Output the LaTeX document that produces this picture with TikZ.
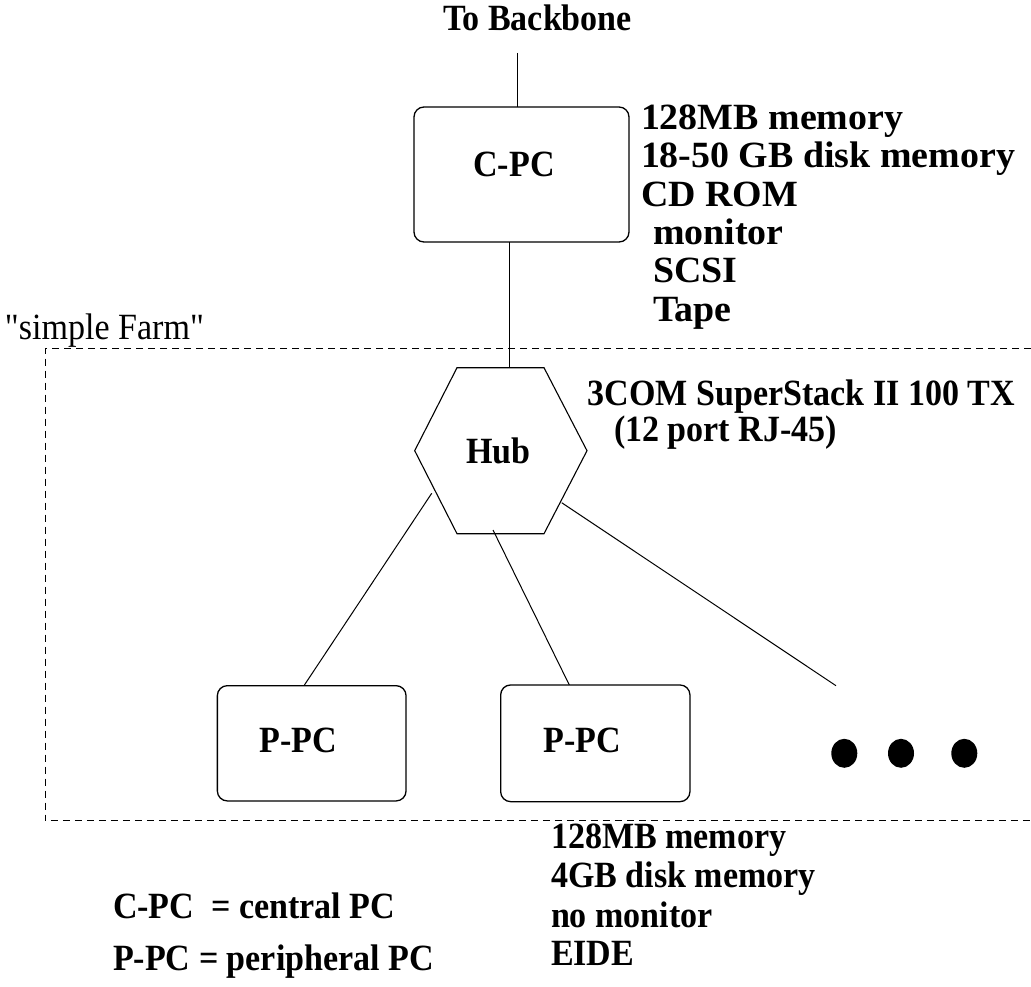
\documentclass[tikz,border=0pt]{standalone}
\usepackage{fontspec}
\setmainfont{Liberation Serif}
\newfontfamily\nf[FakeStretch=0.92]{Liberation Serif}
\newfontfamily\wf[FakeStretch=1.025]{Liberation Serif}
\begin{document}
\begin{tikzpicture}[x=1pt,y=-1pt,
  every node/.style={inner sep=0pt, outer sep=0pt},
  txt/.style={font=\nf\fontsize{37}{40}\selectfont\bfseries, anchor=base west},
  wtxt/.style={font=\wf\fontsize{37}{40}\selectfont\bfseries, anchor=base west},
  ctxt/.style={txt, anchor=base},
  plain/.style={font=\nf\fontsize{37}{40}\selectfont, anchor=base west},
  pcbox/.style={draw, line width=1.3pt, rounded corners=10pt},
  conn/.style={line width=1pt},
  frame/.style={line width=0.9pt, dash pattern=on 7pt off 5pt},
  dot/.style={fill=black}]
\useasboundingbox (0,0) rectangle (1031,987);

% top
\node[ctxt] (backbone) at (537.5,31) {To Backbone};
\coordinate (bbtop) at (517.7,53);

% central PC
\node[pcbox, minimum width=215pt, minimum height=135pt] (cpc) at (521.5,174.5) {};
\node[ctxt] (cpclbl) at (514,177) {C-PC};

\node[wtxt] (s1) at (641,130) {128MB memory};
\node[wtxt] (s2) at (641,168) {18-50 GB disk memory};
\node[wtxt] (s3) at (641,207) {CD ROM};
\node[wtxt] (s4) at (653,245) {monitor};
\node[wtxt] (s5) at (653,283) {SCSI};
\node[wtxt] (s6) at (653,321) {Tape};

% farm frame
\node[plain] (farm) at (5,339) {"simple Farm"};
\draw[frame] (1031,348.5) -- (45,348.5) -- (45,820.7) -- (1031,820.7);

% hub
\coordinate (hA) at (457,367.7);
\coordinate (hB) at (544,367.7);
\coordinate (hC) at (587,450.7);
\coordinate (hD) at (544,533.7);
\coordinate (hE) at (457,533.7);
\coordinate (hF) at (414.7,450.7);
\draw[line width=1.1pt] (hA) -- (hB) -- (hC) -- (hD) -- (hE) -- (hF) -- cycle;
\node[ctxt] (hub) at (498.5,463) {Hub};
\node[txt] (hl1) at (587.5,405) {3COM SuperStack II 100 TX};
\node[txt] (hl2) at (614,441.7) {(12 port RJ-45)};

% peripheral PCs
\node[pcbox, minimum width=188.7pt, minimum height=115.3pt] (p1) at (311.7,743.3) {};
\node[ctxt] (p1lbl) at (298,752.7) {P-PC};
\node[pcbox, minimum width=189.3pt, minimum height=116.7pt] (p2) at (595.3,743.3) {};
\node[ctxt] (p2lbl) at (582.3,752.7) {P-PC};

% dots
\fill[dot] (844.3,753.3) ellipse [x radius=13pt, y radius=14.5pt];
\fill[dot] (901,753.3) ellipse [x radius=13pt, y radius=14.5pt];
\fill[dot] (964.3,753.3) ellipse [x radius=13pt, y radius=14.5pt];

% connectors
\coordinate (cx) at (509,0);
\coordinate (x1) at (304,0);
\coordinate (x2) at (569.3,0);
\coordinate (h1) at (431.7,493.3);
\coordinate (h2) at (493,530);
\coordinate (h3) at (561.7,502.7);
\coordinate (dotsend) at (836,685.7);
\draw[conn] (bbtop) -- (bbtop |- cpc.north);
\draw[conn] (cx |- cpc.south) -- (cx |- hA);
\draw[conn] (h1) -- (x1 |- p1.north);
\draw[conn] (h2) -- (x2 |- p2.north);
\draw[conn] (h3) -- (dotsend);

% bottom notes
\node[txt] (b1) at (551,848) {128MB memory};
\node[txt] (b2) at (551,887) {4GB disk memory};
\node[txt] (b3) at (551,927) {no monitor};
\node[txt] (b4) at (551,965) {EIDE};

\node[txt] (leg1) at (113,918.3) {C-PC\ \ = central PC};
\node[txt] (leg2) at (113,970) {P-PC = peripheral PC};
\end{tikzpicture}
\end{document}
